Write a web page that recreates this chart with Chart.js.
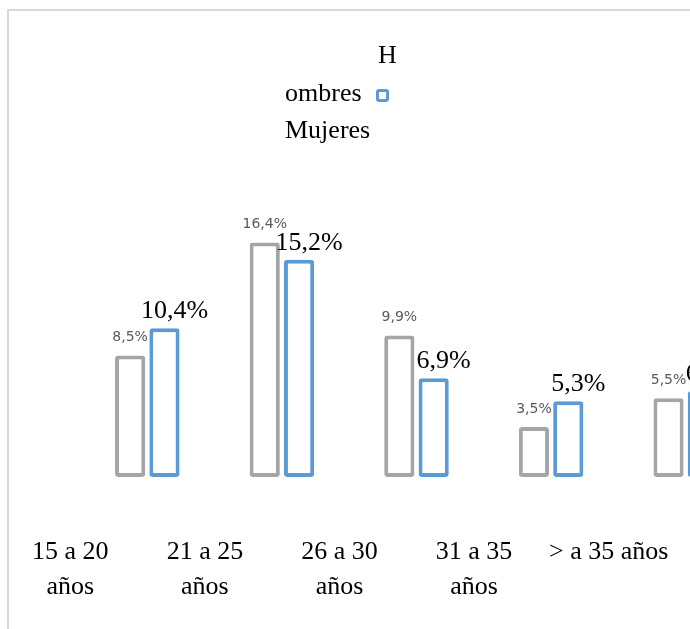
<!DOCTYPE html>
<html>
<head>
<meta charset="utf-8">
<script src="https://cdn.jsdelivr.net/npm/chart.js@4/dist/chart.umd.min.js"></script>
<style>
html,body{margin:0;padding:0;width:690px;height:629px;overflow:hidden;background:#fff;}
#frame{position:absolute;left:7px;top:9px;width:800px;height:800px;border:2px solid #d9d9d9;box-sizing:border-box;}
#c{position:absolute;left:0;top:0;}
.lg{position:absolute;font-family:"Liberation Serif","Times New Roman",serif;font-size:26px;line-height:30px;color:#000;white-space:nowrap;}
.mk{position:absolute;width:7px;height:7px;border:3px solid #5B9BD5;border-radius:3px;background:#fff;}
</style>
</head>
<body>
<div id="frame"></div>
<canvas id="c" width="770" height="629"></canvas>
<div id="legend"></div>
<script>
// ---- data ----
const categories = [["15 a 20", "años"], ["21 a 25", "años"], ["26 a 30", "años"], ["31 a 35", "años"], ["> a 35 años"]];
const seriesNames = ["Hombres", "Mujeres"];
const hombres = [8.5, 16.4, 9.9, 3.5, 5.5];
const mujeres = [10.4, 15.2, 6.9, 5.3, 6.0];

const GRAY = "#A5A5A5";
const BLUE = "#5B9BD5";
const SERIF = '"Liberation Serif", "Times New Roman", serif';

// legend (HTML text, laid out as in the reference)
const lg = document.getElementById('legend');
function addText(t, left, top){const d=document.createElement('div');d.className='lg';d.textContent=t;d.style.left=left+'px';d.style.top=top+'px';lg.appendChild(d);return d;}
addText(seriesNames[0].slice(0,1), 378, 40);
addText(seriesNames[0].slice(1), 285, 78);
const mk=document.createElement('div');mk.className='mk';mk.style.left='376px';mk.style.top='89px';lg.appendChild(mk);
addText(seriesNames[1], 285, 115);

const fmt = v => v.toFixed(1).replace('.', ',') + '%';

const valueLabels = {
  id: 'valueLabels',
  afterDatasetsDraw(chart) {
    const ctx = chart.ctx;
    chart.data.datasets.forEach((ds, i) => {
      const meta = chart.getDatasetMeta(i);
      meta.data.forEach((bar, j) => {
        ctx.save();
        if (i === 0) {
          ctx.font = '14px "DejaVu Sans", sans-serif';
          ctx.fillStyle = '#595959';
          ctx.textAlign = 'center';
          ctx.textBaseline = 'middle';
          ctx.fillText(fmt(ds.data[j]), bar.x, bar.y - 18);
        } else {
          ctx.font = '26px ' + SERIF;
          ctx.fillStyle = '#000';
          ctx.textAlign = 'center';
          ctx.textBaseline = 'alphabetic';
          ctx.fillText(fmt(ds.data[j]), bar.x + 10, bar.y - 10);
        }
        ctx.restore();
      });
    });
  }
};

new Chart(document.getElementById('c'), {
  type: 'bar',
  data: {
    labels: categories,
    datasets: [
      { label: seriesNames[0], data: hombres, backgroundColor: '#fff', borderColor: GRAY, borderWidth: 4, borderRadius: 3, borderSkipped: false },
      { label: seriesNames[1], data: mujeres, backgroundColor: '#fff', borderColor: BLUE, borderWidth: 4, borderRadius: 3, borderSkipped: false }
    ]
  },
  options: {
    responsive: false,
    animation: false,
    devicePixelRatio: 1,
    layout: { padding: { left: 80, right: 17, top: 191, bottom: 0 } },
    datasets: { bar: { categoryPercentage: 0.51, barPercentage: 0.88 } },
    plugins: { legend: { display: false }, tooltip: { enabled: false } },
    scales: {
      y: { display: false, min: 0, max: 20 },
      x: {
        grid: { display: false },
        border: { display: false },
        afterFit: s => { s.height = 152; s.paddingLeft = 0; s.paddingRight = 0; },
        ticks: {
          color: '#000',
          font: { family: SERIF, size: 26, lineHeight: 1.35 },
          padding: 50,
          labelOffset: -77,
          maxRotation: 0,
          autoSkip: false
        }
      }
    }
  },
  plugins: [valueLabels]
});
</script>
</body>
</html>
